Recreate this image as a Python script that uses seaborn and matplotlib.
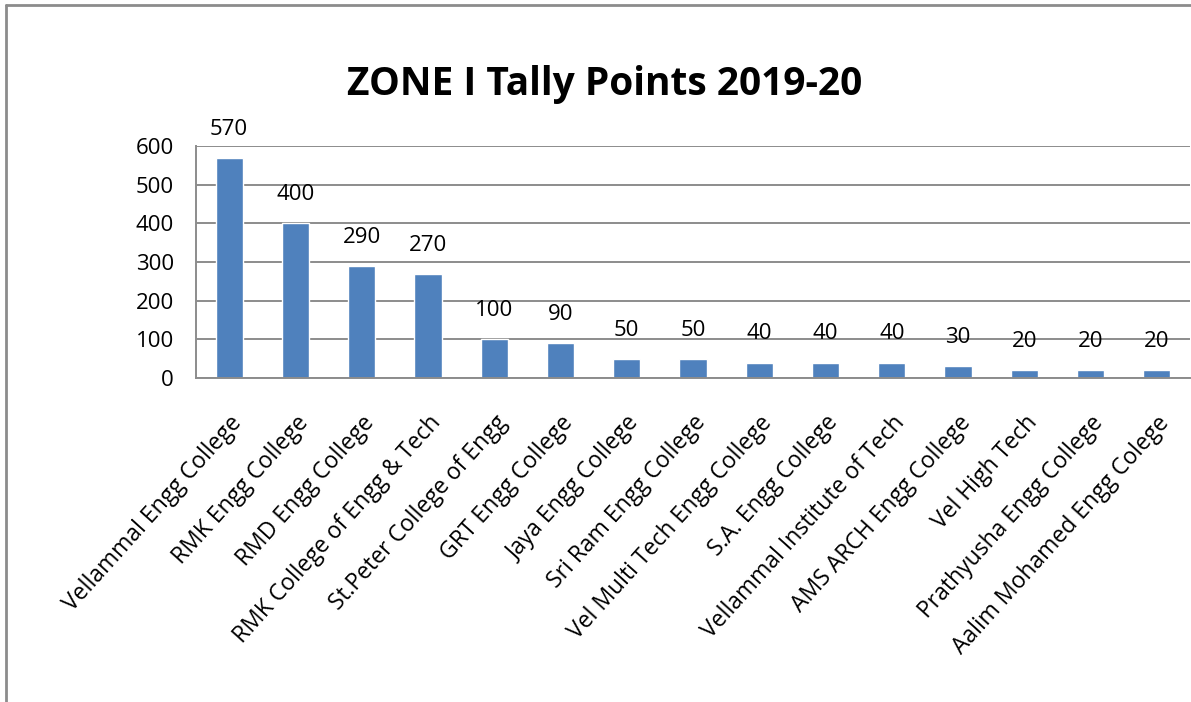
import matplotlib
matplotlib.use('Agg')
import matplotlib.pyplot as plt
import seaborn as sns
import pandas as pd
from matplotlib.lines import Line2D
from matplotlib.transforms import ScaledTranslation

colleges = ['Vellammal Engg College', 'RMK Engg College', 'RMD Engg College',
            'RMK College of Engg & Tech', 'St.Peter College of Engg',
            'GRT Engg College', 'Jaya Engg College', 'Sri Ram Engg College',
            'Vel Multi Tech Engg College', 'S.A. Engg College',
            'Vellammal Institute of Tech', 'AMS ARCH Engg College',
            'Vel High Tech', 'Prathyusha Engg College', 'Aalim Mohamed Engg Colege']
points = [570, 400, 290, 270, 100, 90, 50, 50, 40, 40, 40, 30, 20, 20, 20]
yticks = [0, 100, 200, 300, 400, 500, 600]

sns.set_style('white')
plt.rcParams['font.family'] = ['Open Sans', 'DejaVu Sans']
plt.rcParams['text.color'] = 'black'
plt.rcParams['xtick.color'] = 'black'
plt.rcParams['ytick.color'] = 'black'

df = pd.DataFrame({'college': colleges, 'points': points})

fig = plt.figure(figsize=(11.91, 7.02), dpi=100)
ax = fig.add_axes([196 / 1191, 1 - 378 / 702, 994 / 1191, 232 / 702])

sns.barplot(data=df, x='college', y='points', color='#4F81BD', width=0.41,
            saturation=1, ax=ax)

ax.set_ylim(0, 600)
ax.set_yticks(yticks)
ax.set_yticklabels([str(t) for t in yticks], fontsize=16)
ax.yaxis.grid(True, color='#8c8c8c', linewidth=1.4)
ax.set_axisbelow(True)
ax.set_xlabel('')
ax.set_ylabel('')
ax.tick_params(axis='y', length=0, pad=16)
ax.tick_params(axis='x', length=0, pad=8)
ax.set_xticks(range(len(colleges)))
ax.set_xticklabels(colleges, rotation=48, ha='right', rotation_mode='anchor',
                   fontsize=16.5)
for lbl in ax.get_xticklabels():
    lbl.set_transform(lbl.get_transform() + ScaledTranslation(0.0, -0.22, fig.dpi_scale_trans))

for side in ['top', 'right']:
    ax.spines[side].set_visible(False)
for side in ['left', 'bottom']:
    ax.spines[side].set_color('#8c8c8c')
    ax.spines[side].set_linewidth(1.4)

for i, v in enumerate(points):
    ax.annotate(str(v), (i, v), xytext=(0, 13), textcoords='offset points',
                ha='center', va='bottom', fontsize=16)

fig.text(605 / 1191, 1 - 84 / 702, 'ZONE I Tally Points 2019-20',
         ha='center', va='center', fontsize=28, fontweight='bold')

# outer chart frame (only top and left visible)
fig.add_artist(Line2D([6 / 1191, 1], [1 - 5 / 702, 1 - 5 / 702],
                      color='#8c8c8c', linewidth=2, transform=fig.transFigure))
fig.add_artist(Line2D([6 / 1191, 6 / 1191], [0, 1 - 5 / 702],
                      color='#8c8c8c', linewidth=2, transform=fig.transFigure))

fig.savefig('out.png', dpi=100)
